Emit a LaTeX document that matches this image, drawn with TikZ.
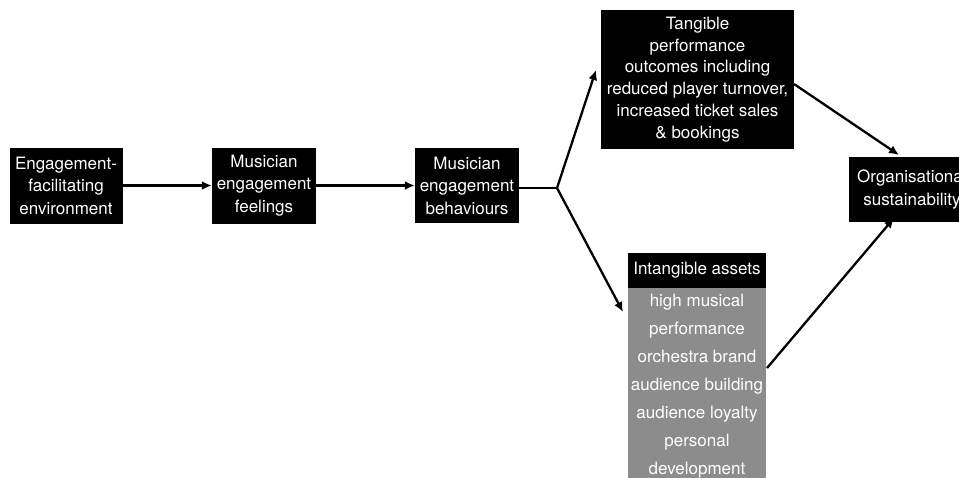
\documentclass[tikz,border=0pt]{standalone}
\usepackage{fontspec}
\setmainfont{TeX Gyre Heros}
\usetikzlibrary{arrows.meta}
\begin{document}
\begin{tikzpicture}[x=1pt,y=-1pt,
  blk/.style={fill=black,text=white,inner sep=0pt,align=center,font=\fontsize{17}{22.5}\selectfont},
  listtext/.style={text=white,inner sep=0pt,align=center,font=\fontsize{17}{28}\selectfont},
  link/.style={line width=2.3pt,-{Latex[length=10pt,width=9pt]}},
  seg/.style={line width=2.3pt}]
\useasboundingbox (0,0) rectangle (959,477);
% main chain
\node[blk,minimum width=113pt,minimum height=76pt] (env) at (66,185.5) {Engagement-\\facilitating\\environment};
\node[blk,minimum width=104pt,minimum height=76pt] (feel) at (264,185.5) {Musician\\engagement\\feelings};
\node[blk,minimum width=104pt,minimum height=75pt] (beh) at (467,185.5) {Musician\\engagement\\behaviours};
% outcomes
\node[blk,minimum width=193pt,minimum height=139pt,font=\fontsize{17}{21.7}\selectfont] (tang) at (697.5,79.5) {Tangible\\performance\\outcomes including\\reduced player turnover,\\increased ticket sales\\\& bookings};
\node[blk,inner xsep=8pt,minimum height=65pt,anchor=west] (org) at (849,189.5) {Organisational\\sustainability};
% intangible assets panel
\fill[black!45] (628,288) rectangle (766,490);
\node[listtext,anchor=north] (list) at (697,293.5)
  {high musical\\performance\\orchestra brand\\audience building\\audience loyalty\\personal\\development};
\node[blk,minimum width=138pt,minimum height=35pt,anchor=south,font=\fontsize{17}{18}\selectfont] (head) at (697,288) {Intangible assets};
% connector end points
\coordinate (fork) at (557,188);
\coordinate (upend) at (596,70);
\coordinate (downend) at (623,312);
\coordinate (tstart) at (794,84);
\coordinate (tend) at (899,155);
\coordinate (istart) at (767,368);
\coordinate (iend) at (894,218);
% connectors
\draw[link] (env.east) -- (feel.west);
\draw[link] (feel.east) -- (beh.west);
\draw[seg] ([yshift=-2.5pt]beh.east) -- (fork);
\draw[link] (fork) -- (upend);
\draw[link] (fork) -- (downend);
\draw[link] (tstart) -- (tend);
\draw[link] (istart) -- (iend);
\end{tikzpicture}
\end{document}
